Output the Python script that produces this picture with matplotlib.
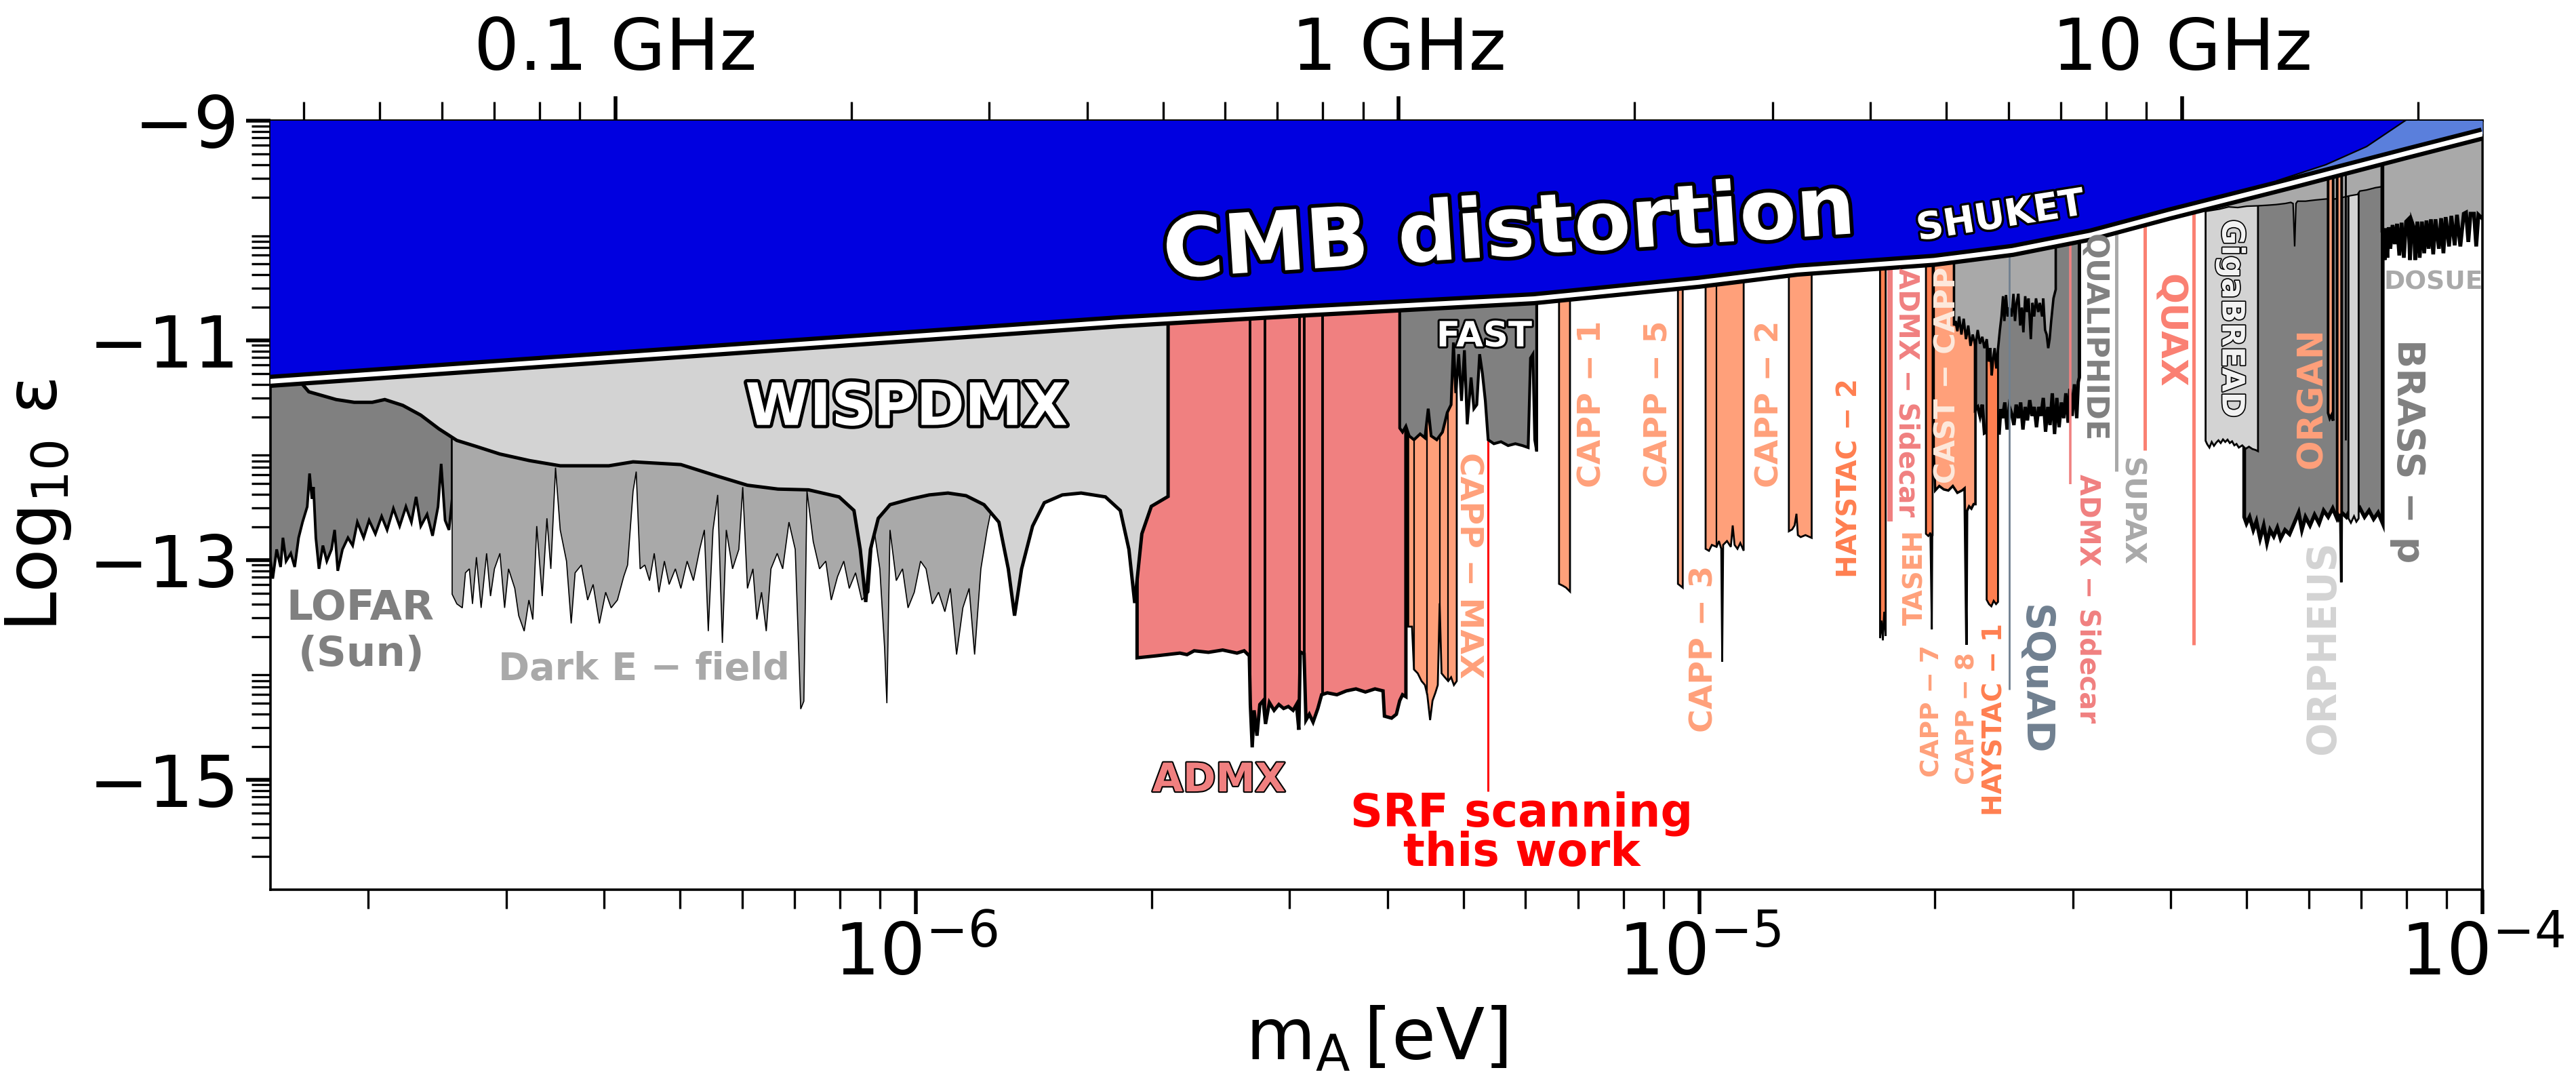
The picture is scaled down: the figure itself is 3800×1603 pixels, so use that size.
import numpy as np
import matplotlib
matplotlib.use("Agg")
import matplotlib.pyplot as plt
import matplotlib.patheffects as pe
from matplotlib.ticker import FixedLocator, NullFormatter

# photon energy of 1 GHz in eV (for the top axis)
GHZ_EV = 4.135667e-6

# all curves are (log10 m_A [eV], log10 eps)

# lower edge of the CMB distortion bound
CMB = [(-6.85, -11.385), (-6.5, -11.21), (-6.0, -10.96), (-5.741, -10.83),
       (-5.5, -10.73), (-5.211, -10.62), (-5.0, -10.47), (-4.875, -10.36),
       (-4.70, -10.27), (-4.60, -10.18), (-4.50, -10.04), (-4.40, -9.85),
       (-4.25, -9.58), (-4.099, -9.30), (-4.0, -9.12)]
# where the dark blue part stops and the lighter wedge starts
BLUE_SPLIT = [(-4.262, -9.545), (-4.20, -9.40), (-4.148, -9.235),
              (-4.099, -9.0), (-4.09, -8.96)]

LOFAR = [(-6.825, -12.938), (-6.821, -13.168), (-6.816, -12.902), (-6.811, -13.062),
         (-6.808, -12.796), (-6.804, -13.009), (-6.798, -12.938), (-6.793, -13.062),
         (-6.788, -12.796), (-6.783, -12.654), (-6.777, -12.513), (-6.774, -12.211),
         (-6.771, -12.442), (-6.769, -12.335), (-6.766, -12.796), (-6.762, -13.079),
         (-6.757, -12.867), (-6.752, -13.009), (-6.746, -12.902), (-6.742, -12.725),
         (-6.738, -13.097), (-6.732, -12.902), (-6.725, -12.796), (-6.719, -12.867),
         (-6.713, -12.654), (-6.705, -12.796), (-6.698, -12.637), (-6.690, -12.761),
         (-6.682, -12.601), (-6.675, -12.725), (-6.667, -12.530), (-6.659, -12.690),
         (-6.651, -12.513), (-6.644, -12.654), (-6.638, -12.424), (-6.632, -12.690),
         (-6.624, -12.583), (-6.617, -12.778), (-6.610, -12.513), (-6.606, -12.123),
         (-6.601, -12.637), (-6.596, -12.725), (-6.592, -12.442)]

DARK_E = [(-6.592, -13.310), (-6.586, -13.398), (-6.579, -13.434), (-6.575, -13.115),
          (-6.570, -13.079), (-6.566, -13.398), (-6.561, -12.973), (-6.555, -13.434),
          (-6.548, -12.938), (-6.543, -13.327), (-6.538, -13.079), (-6.531, -12.938),
          (-6.525, -13.434), (-6.520, -13.079), (-6.512, -13.257), (-6.507, -13.505),
          (-6.500, -13.646), (-6.494, -13.363), (-6.489, -13.540), (-6.484, -12.690),
          (-6.477, -13.327), (-6.471, -12.619), (-6.466, -13.079), (-6.460, -12.158),
          (-6.454, -12.725), (-6.446, -13.009), (-6.440, -13.576), (-6.435, -13.115),
          (-6.427, -13.044), (-6.419, -13.363), (-6.412, -13.221), (-6.404, -13.576),
          (-6.396, -13.292), (-6.389, -13.434), (-6.381, -13.363), (-6.373, -13.150),
          (-6.368, -13.044), (-6.361, -12.371), (-6.357, -12.194), (-6.352, -13.079),
          (-6.346, -13.044), (-6.340, -13.186), (-6.334, -12.938), (-6.328, -13.292),
          (-6.321, -13.009), (-6.315, -13.221), (-6.307, -13.079), (-6.300, -13.257),
          (-6.292, -13.009), (-6.284, -13.186), (-6.276, -12.902), (-6.270, -12.725),
          (-6.265, -13.646), (-6.259, -12.725), (-6.253, -12.406), (-6.247, -13.753),
          (-6.242, -12.725), (-6.234, -13.079), (-6.226, -12.902), (-6.221, -12.335),
          (-6.215, -13.257), (-6.208, -13.079), (-6.203, -13.540), (-6.197, -13.292),
          (-6.191, -13.646), (-6.185, -13.079), (-6.177, -12.938), (-6.170, -13.079),
          (-6.162, -12.654), (-6.154, -12.902), (-6.147, -14.355), (-6.143, -14.284),
          (-6.139, -12.371), (-6.131, -12.831), (-6.123, -13.079), (-6.115, -13.009),
          (-6.108, -13.363), (-6.100, -13.150), (-6.092, -13.009), (-6.085, -13.257),
          (-6.077, -13.115), (-6.069, -13.363), (-6.060, -13.292), (-6.054, -12.690),
          (-6.046, -13.079), (-6.040, -13.788), (-6.037, -14.302), (-6.033, -12.725),
          (-6.025, -13.186), (-6.017, -13.079), (-6.010, -13.434), (-6.002, -13.292),
          (-5.994, -13.009), (-5.987, -13.079), (-5.979, -13.398), (-5.971, -13.292),
          (-5.963, -13.469), (-5.956, -13.257), (-5.948, -13.859), (-5.940, -13.434),
          (-5.932, -13.257), (-5.925, -13.859), (-5.917, -13.079), (-5.909, -12.725),
          (-5.905, -12.583)]

WISPDMX = [(-6.783, -11.40), (-6.775, -11.467), (-6.740, -11.538), (-6.717, -11.563),
           (-6.694, -11.563), (-6.678, -11.538), (-6.655, -11.591), (-6.632, -11.680),
           (-6.609, -11.804), (-6.586, -11.910), (-6.562, -11.963), (-6.531, -12.034),
           (-6.493, -12.094), (-6.454, -12.141), (-6.392, -12.141), (-6.361, -12.105),
           (-6.300, -12.130), (-6.253, -12.236), (-6.215, -12.318), (-6.176, -12.353),
           (-6.137, -12.360), (-6.098, -12.424), (-6.079, -12.548), (-6.071, -12.902),
           (-6.064, -13.381), (-6.058, -12.902), (-6.048, -12.619), (-6.033, -12.495),
           (-6.006, -12.442), (-5.983, -12.406), (-5.959, -12.389), (-5.936, -12.413),
           (-5.913, -12.495), (-5.894, -12.654), (-5.882, -13.079), (-5.874, -13.505),
           (-5.865, -13.079), (-5.851, -12.690), (-5.836, -12.477), (-5.813, -12.406),
           (-5.789, -12.389), (-5.758, -12.424), (-5.739, -12.548), (-5.728, -12.902),
           (-5.7206, -13.39), (-5.7115, -12.76), (-5.6994, -12.51), (-5.678, -12.42)]

ADMX = [(-5.7176, -13.889), (-5.6933, -13.871), (-5.6629, -13.846), (-5.6538, -13.860),
        (-5.6447, -13.825), (-5.6265, -13.839), (-5.6083, -13.818), (-5.5900, -13.846),
        (-5.5809, -13.825), (-5.5743, -13.871), (-5.5730, -14.314), (-5.5706, -14.704),
        (-5.5682, -14.367), (-5.5645, -14.598), (-5.5609, -14.314), (-5.5566, -14.279),
        (-5.5536, -14.491), (-5.5487, -14.296), (-5.5427, -14.367), (-5.5366, -14.314),
        (-5.5305, -14.350), (-5.5245, -14.332), (-5.5184, -14.367), (-5.5141, -14.314),
        (-5.5111, -14.544), (-5.5093, -13.836), (-5.5044, -13.853), (-5.5020, -14.456),
        (-5.4977, -14.403), (-5.4929, -14.474), (-5.4868, -14.350), (-5.4820, -14.225),
        (-5.4747, -14.208), (-5.4625, -14.225), (-5.4504, -14.190), (-5.4382, -14.172),
        (-5.4261, -14.200), (-5.4139, -14.172), (-5.4036, -14.190), (-5.4018, -14.420),
        (-5.3927, -14.438), (-5.3866, -14.403), (-5.3823, -14.279), (-5.3787, -14.225),
        (-5.3744, -14.243)]
ADMX_RUNS = [-5.573, -5.554, -5.510, -5.504, -5.481]

FAST = [(-5.3823, -11.798), (-5.3787, -11.834), (-5.3744, -11.780), (-5.3702, -11.869),
        (-5.3641, -11.904), (-5.3562, -11.851), (-5.3501, -11.887), (-5.3459, -11.621),
        (-5.3422, -11.869), (-5.3350, -11.904), (-5.3277, -11.834), (-5.3216, -11.656),
        (-5.3167, -11.585), (-5.3137, -11.018), (-5.3107, -11.479), (-5.3070, -11.125),
        (-5.3034, -11.550), (-5.2997, -11.089), (-5.2961, -11.763), (-5.2912, -11.337),
        (-5.2876, -11.621), (-5.2839, -11.585), (-5.2803, -11.125), (-5.2767, -11.302),
        (-5.2730, -11.550), (-5.2694, -11.904), (-5.2621, -11.940), (-5.2530, -11.922),
        (-5.2439, -11.957), (-5.2347, -11.940), (-5.2256, -11.957), (-5.2183, -11.975),
        (-5.2153, -11.160), (-5.2123, -11.125), (-5.2099, -11.904), (-5.2074, -12.011)]

CAPP_MAX = [(-5.3714, -13.605), (-5.3666, -13.605), (-5.3641, -13.995), (-5.3593, -14.030),
            (-5.3544, -14.101), (-5.3501, -14.137), (-5.3471, -14.225), (-5.3435, -14.456),
            (-5.3404, -14.279), (-5.3368, -14.208), (-5.3337, -14.137), (-5.3313, -13.393),
            (-5.3289, -14.030), (-5.3247, -14.066), (-5.3204, -14.101), (-5.3167, -14.066),
            (-5.3131, -14.137), (-5.3095, -14.101)]
CAPP_MAX_RUNS = [-5.3641, -5.3471, -5.3313, -5.3204]

SRF_MASS = -5.2694
SRF_BOTTOM = -15.105

CAPP_1 = [(-5.1789, -13.216), (-5.1740, -13.233), (-5.1700, -13.250), (-5.1649, -13.286)]
CAPP_5 = [(-5.0271, -13.216), (-5.0240, -13.233), (-5.0210, -13.250)]
CAPP_3 = [(-4.9918, -12.897), (-4.9875, -12.915), (-4.9838, -12.861), (-4.9778, -12.879),
          (-4.9748, -12.826), (-4.9718, -12.897), (-4.9706, -13.924), (-4.9694, -12.861),
          (-4.9645, -12.826), (-4.9596, -12.879), (-4.9572, -12.684), (-4.9548, -12.861),
          (-4.9511, -12.897), (-4.9475, -12.844), (-4.9432, -12.914)]
CAPP_2 = [(-4.8855, -12.737), (-4.8813, -12.720), (-4.8782, -12.684), (-4.8758, -12.578),
          (-4.8740, -12.772), (-4.8704, -12.790), (-4.8643, -12.772), (-4.8564, -12.797)]
HAYSTAC_2 = [(-4.7691, -13.71), (-4.7672, -13.55), (-4.7655, -13.73), (-4.7638, -13.47),
             (-4.7619, -13.69)]
SIDECAR_1 = [(-4.7601, -12.65), (-4.7532, -12.65)]
TASEH = [(-4.7105, -12.76), (-4.7075, -12.78), (-4.7048, -12.75), (-4.7030, -13.63),
         (-4.7024, -12.77), (-4.7020, -12.77)]
CAST_CAPP = [(-4.7007, -11.996), (-4.6987, -12.366), (-4.6935, -12.325), (-4.6877, -12.356),
             (-4.6819, -12.366), (-4.6762, -12.325), (-4.6704, -12.387), (-4.6646, -12.366),
             (-4.6612, -12.346), (-4.6588, -13.770), (-4.6580, -12.552), (-4.6554, -12.510),
             (-4.6525, -12.531), (-4.6496, -12.490), (-4.6473, -12.490)]

QUALIPHIDE = [(-4.6473, -11.625), (-4.6444, -11.605), (-4.6415, -11.687), (-4.6386, -11.584),
              (-4.6358, -11.842), (-4.6329, -11.831), (-4.6170, -11.842), (-4.6150, -11.625),
              (-4.6127, -11.708), (-4.6098, -11.564), (-4.6069, -11.811), (-4.6040, -11.605),
              (-4.6011, -11.667), (-4.5982, -11.770), (-4.5953, -11.584), (-4.5925, -11.708),
              (-4.5896, -11.564), (-4.5867, -11.811), (-4.5838, -11.605), (-4.5809, -11.728),
              (-4.5780, -11.543), (-4.5751, -11.687), (-4.5723, -11.605), (-4.5694, -11.790),
              (-4.5665, -11.605), (-4.5636, -11.687), (-4.5607, -11.523), (-4.5578, -11.831),
              (-4.5549, -11.605), (-4.5521, -11.770), (-4.5492, -11.481), (-4.5463, -11.852),
              (-4.5434, -11.523), (-4.5405, -11.790), (-4.5376, -11.564), (-4.5347, -11.708),
              (-4.5319, -11.481), (-4.5290, -11.749), (-4.5267, -11.440), (-4.5238, -11.687),
              (-4.5209, -11.399), (-4.5180, -11.708), (-4.5160, -11.378), (-4.5146, -11.337)]
HAYSTAC_1 = [(-4.6330, -13.36), (-4.6300, -13.40), (-4.6270, -13.42), (-4.6240, -13.37),
             (-4.6210, -13.40), (-4.6185, -13.38)]
SHUKET = [(-4.6747, -10.864), (-4.6727, -10.823), (-4.6704, -10.916), (-4.6681, -10.782),
          (-4.6652, -10.946), (-4.6623, -10.802), (-4.6594, -10.988), (-4.6565, -10.864),
          (-4.6536, -11.049), (-4.6508, -10.946), (-4.6473, -11.049), (-4.6444, -10.905),
          (-4.6415, -11.029), (-4.6386, -10.967), (-4.6358, -11.070), (-4.6329, -10.988),
          (-4.6300, -11.193), (-4.6283, -11.070), (-4.6265, -11.317), (-4.6248, -11.173),
          (-4.6228, -11.070), (-4.6207, -11.255), (-4.6184, -11.070), (-4.6161, -10.905),
          (-4.6141, -10.782), (-4.6121, -10.597), (-4.6104, -10.823), (-4.6083, -10.586),
          (-4.6063, -10.782), (-4.6040, -10.700), (-4.6011, -10.782), (-4.5988, -10.576),
          (-4.5968, -10.823), (-4.5948, -10.658), (-4.5925, -10.576), (-4.5902, -10.864),
          (-4.5881, -10.700), (-4.5861, -10.926), (-4.5838, -10.597), (-4.5815, -10.741),
          (-4.5795, -10.617), (-4.5766, -10.988), (-4.5746, -10.658), (-4.5723, -10.782),
          (-4.5700, -10.617), (-4.5671, -10.741), (-4.5651, -10.658), (-4.5622, -10.782),
          (-4.5607, -10.617), (-4.5584, -10.905), (-4.5564, -10.946), (-4.5544, -11.070),
          (-4.5526, -10.988), (-4.5506, -10.823), (-4.5477, -10.617), (-4.5448, -10.535)]

# single-frequency limits drawn as thin lines: (log10 m, lowest log10 eps)
SQUAD_LINE = (-4.6040, -14.18)
SIDECAR_2_LINE = (-4.5261, -12.31)
SUPAX_LINE = (-4.4678, -12.19)
QUAX_LINES = [(-4.4309, -12.00), (-4.3688, -13.77)]
ORGAN_LINE = (-4.1745, -11.91)

GIGABREAD = [(-4.3535, -11.913), (-4.3515, -11.944), (-4.3486, -11.975), (-4.3457, -11.924),
             (-4.3428, -11.959), (-4.3399, -11.930), (-4.3371, -11.909), (-4.3342, -11.934),
             (-4.3313, -11.901), (-4.3284, -11.924), (-4.3255, -11.903), (-4.3226, -11.934),
             (-4.3197, -11.918), (-4.3168, -11.955), (-4.3140, -11.942), (-4.3111, -11.975),
             (-4.3067, -11.955), (-4.3024, -11.986), (-4.2981, -11.967), (-4.2938, -11.988),
             (-4.2900, -11.996), (-4.2866, -12.008)]
ORGAN = [(-4.3042, -12.607), (-4.3013, -12.666), (-4.2973, -12.607), (-4.2926, -12.725),
         (-4.2886, -12.646), (-4.2839, -12.804), (-4.2793, -12.685), (-4.2752, -12.843),
         (-4.2712, -12.725), (-4.2665, -12.784), (-4.2619, -12.705), (-4.2578, -12.804),
         (-4.2521, -12.725), (-4.2463, -12.764), (-4.2405, -12.666), (-4.2347, -12.567),
         (-4.2306, -12.725), (-4.2260, -12.607), (-4.2202, -12.685), (-4.2144, -12.587),
         (-4.2086, -12.666), (-4.2028, -12.548), (-4.1970, -12.607), (-4.1912, -12.528),
         (-4.1854, -12.626), (-4.1796, -12.567), (-4.1738, -12.607), (-4.1680, -12.528),
         (-4.1622, -12.587), (-4.1564, -12.528), (-4.1506, -12.607), (-4.1448, -12.548),
         (-4.1390, -12.626), (-4.1332, -12.567), (-4.1274, -12.666)]
ORPHEUS = [(-4.1711, -12.62), (-4.1680, -12.66), (-4.1640, -12.60), (-4.1610, -12.65),
           (-4.1581, -12.62)]
ORGAN_BAND_1 = [(-4.1971, -11.66), (-4.1950, -11.71), (-4.1928, -11.68), (-4.1907, -11.73)]
ORGAN_BAND_2 = [(-4.1855, -12.56), (-4.1835, -12.62), (-4.1815, -12.58), (-4.1802, -13.20),
                (-4.1798, -12.60)]
UPPER_BAND = [(-4.3535, -9.825), (-4.3356, -9.804), (-4.3241, -9.784), (-4.3125, -9.790),
              (-4.3010, -9.778), (-4.2866, -9.774), (-4.2750, -9.769), (-4.2635, -9.763),
              (-4.2519, -9.753), (-4.2447, -9.743), (-4.2418, -9.753), (-4.2398, -10.144),
              (-4.2381, -9.753), (-4.2360, -9.732), (-4.2260, -9.732), (-4.2144, -9.722),
              (-4.1999, -9.712), (-4.1884, -9.712), (-4.1769, -9.695), (-4.1682, -9.681),
              (-4.1596, -9.671), (-4.1567, -9.640), (-4.1480, -9.630), (-4.1365, -9.609),
              (-4.1278, -9.599)]
DOSUE = [(-4.1278, -10.000), (-4.1264, -10.000), (-4.1249, -10.267), (-4.1235, -9.979),
         (-4.1215, -10.247), (-4.1197, -9.969), (-4.1177, -10.165), (-4.1148, -9.949),
         (-4.1120, -10.123), (-4.1091, -9.938), (-4.1062, -10.226), (-4.1033, -9.928),
         (-4.1004, -10.247), (-4.0975, -9.918), (-4.0946, -9.897), (-4.0926, -10.267),
         (-4.0903, -9.918), (-4.0874, -9.979), (-4.0860, -10.267), (-4.0831, -9.918),
         (-4.0802, -10.247), (-4.0773, -9.918), (-4.0744, -10.206), (-4.0715, -9.908),
         (-4.0687, -10.165), (-4.0658, -9.897), (-4.0629, -10.216), (-4.0600, -9.897),
         (-4.0557, -10.165), (-4.0528, -9.887), (-4.0499, -10.206), (-4.0470, -9.877),
         (-4.0427, -10.144), (-4.0398, -9.866), (-4.0355, -10.134), (-4.0326, -9.856),
         (-4.0283, -10.144), (-4.0239, -9.846), (-4.0210, -9.835), (-4.0181, -10.103),
         (-4.0152, -9.846), (-4.0109, -9.846), (-4.0080, -10.144), (-4.0052, -9.856),
         (-4.0022, -9.877), (-3.9990, -9.897)]

# horizontal labels: text, log10 m, log10 eps (baseline), colour, size, angle, outline
FLAT_LABELS = [
    ("LOFAR", -6.709, -13.54, "gray", 22, 0, 0),
    ("(Sun)", -6.708, -13.963, "gray", 22, 0, 0),
    ("Dark E \u2212 field", -6.347, -14.089, "darkgray", 20, 0, 0),
    ("WISPDMX", -6.012, -11.769, "white", 31, 0, 3.5),
    ("ADMX", -5.613, -15.105, "lightcoral", 21, 0, 1.5),
    ("FAST", -5.2744, -11.054, "white", 18.5, 0, 2.2),
    ("SRF scanning", -5.2268, -15.42, "red", 24, 0, 0),
    ("this work", -5.2268, -15.784, "red", 24, 0, 0),
    ("DOSUE", -4.0629, -10.535, "darkgray", 13.5, 0, 0),
    ("CMB distortion", -5.2407, -10.228, "white", 44, 3.7, 4),
    ("SHUKET", -4.6130, -9.969, "white", 20, 9, 2.5),
]
# vertical labels, placed by centre
VERT_LABELS = [
    ("CAPP \u2212 MAX", -5.2943, -13.046, "lightsalmon", 17, -90, 0),
    ("CAPP \u2212 1", -5.1364, -11.577, "lightsalmon", 17, 90, 0),
    ("CAPP \u2212 5", -5.0513, -11.577, "lightsalmon", 17, 90, 0),
    ("CAPP \u2212 3", -4.9936, -13.807, "lightsalmon", 17, 90, 0),
    ("CAPP \u2212 2", -4.9098, -11.577, "lightsalmon", 17, 90, 0),
    ("HAYSTAC \u2212 2", -4.8075, -12.253, "coral", 14.5, 90, 0),
    ("ADMX \u2212 Sidecar", -4.7353, -11.473, "lightcoral", 14.5, -90, 0),
    ("TASEH", -4.7246, -13.158, "lightsalmon", 14, 90, 0),
    ("CAST \u2212 CAPP", -4.6834, -11.317, "#fde9dc", 15.5, 90, 0),
    ("CAPP \u2212 7", -4.7022, -14.376, "lightsalmon", 13.5, 90, 0),
    ("CAPP \u2212 8", -4.6571, -14.44, "lightsalmon", 13.5, 90, 0),
    ("HAYSTAC \u2212 1", -4.6225, -14.45, "coral", 14, 90, 0),
    ("SQuAD", -4.5723, -14.09, "slategray", 20.5, -90, 0),
    ("ADMX \u2212 Sidecar", -4.5042, -13.347, "lightcoral", 14.5, -90, 0),
    ("QUALIPHIDE", -4.4972, -10.977, "gray", 16, -90, 0),
    ("SUPAX", -4.4490, -12.559, "darkgray", 15.5, -90, 0),
    ("QUAX", -4.3999, -10.914, "salmon", 19, -90, 0),
    ("GigaBREAD", -4.3212, -10.802, "#f2f2f2", 16.5, -90, 1.2),
    ("ORGAN", -4.2172, -11.524, "lightsalmon", 18.5, 90, 0),
    ("ORPHEUS", -4.2028, -13.796, "lightgray", 21, 90, 0),
    ("BRASS \u2212 p", -4.0955, -12.008, "gray", 20, -90, 0),
]

TOP_TICKS_GHZ = [0.1, 1, 10]
TOP_TICK_LABELS = ["0.1 GHz", "1 GHz", "10 GHz"]
Y_MAJOR = [-15, -13, -11, -9]

TOP = -8.0
fig = plt.figure(figsize=(19, 8.015), dpi=200)
ax = fig.add_axes([0.105, 0.1815, 0.8587, 0.7074])
ax.set_xscale("log")


def mass(lm):
    return 10.0 ** np.asarray(lm, dtype=float)


def region(pts, fc, ec="k", lw=1.0, z=2):
    lm, le = np.array(pts).T
    ax.fill(mass(np.r_[lm[0], lm, lm[-1]]), np.r_[TOP, le, TOP],
            facecolor=fc, edgecolor=ec, linewidth=lw, zorder=z)
    return lm, le


def run_edges(lm, le, where, lw, z):
    for x in where:
        ax.plot(mass([x, x]), [np.interp(x, lm, le), TOP], color="k",
                lw=lw, zorder=z, solid_capstyle="butt")


def vline(spec, color, lw, z=6.5):
    x, bottom = spec
    ax.plot(mass([x, x]), [bottom, TOP], color=color, lw=lw, zorder=z,
            solid_capstyle="butt")


# low mass side
region(LOFAR, "gray", lw=1.4, z=2)
region(DARK_E, "darkgray", lw=0.6, z=2)
lm, le = region(ADMX, "lightcoral", lw=1.8, z=3)
run_edges(lm, le, ADMX_RUNS, 1.4, 3.1)
region(WISPDMX, "lightgray", lw=1.8, z=4)
lm, le = region(CAPP_MAX, "lightsalmon", lw=1.0, z=4)
run_edges(lm, le, CAPP_MAX_RUNS, 0.8, 4.1)
vline((SRF_MASS, SRF_BOTTOM), "red", 1.1, z=4.5)
region(FAST, "gray", lw=1.5, z=5)

# haloscope bands
region(CAPP_1, "lightsalmon", lw=1.0, z=4)
region(CAPP_5, "lightsalmon", lw=1.0, z=4)
lm, le = region(CAPP_3, "lightsalmon", lw=1.0, z=4)
run_edges(lm, le, [-4.9778], 0.8, 4.1)
region(CAPP_2, "lightsalmon", lw=1.0, z=4)
region(HAYSTAC_2, "coral", lw=1.0, z=4)
region(SIDECAR_1, "lightcoral", ec="none", z=4)
region(TASEH, "coral", lw=1.0, z=4)
region(CAST_CAPP, "lightsalmon", lw=1.3, z=4)
region(QUALIPHIDE, "gray", lw=1.8, z=5)
region(HAYSTAC_1, "coral", lw=1.0, z=5.5)
region(SHUKET, "darkgray", lw=1.3, z=6)

vline(SQUAD_LINE, "slategray", 1.0)
vline(SIDECAR_2_LINE, "lightcoral", 1.3)
vline(SUPAX_LINE, "darkgray", 1.8)
for q in QUAX_LINES:
    vline(q, "salmon", 1.8)

# high mass side
region(ORGAN, "gray", lw=2.0, z=4)
region(GIGABREAD, "lightgray", lw=1.0, z=5)
region(ORPHEUS, "lightgray", lw=1.0, z=5)
region(UPPER_BAND, "darkgray", lw=0.8, z=6)
region(ORGAN_BAND_1, "lightsalmon", lw=1.4, z=6.5)
region(ORGAN_BAND_2, "lightsalmon", lw=1.4, z=6.5)
vline(ORGAN_LINE, "k", 1.0)
region(DOSUE, "darkgray", lw=2.0, z=6)

# CMB distortion
c_lm, c_le = np.array(CMB).T
b_lm, b_le = np.array(BLUE_SPLIT).T
ax.fill_between(mass(c_lm), c_le, TOP, color="#5a7fdc", lw=0, zorder=10)
keep = c_lm < b_lm[0]
ax.fill(mass(np.r_[c_lm[keep], b_lm, b_lm[-1], c_lm[0]]),
        np.r_[c_le[keep], b_le, TOP, TOP], color="#0000e0", lw=0, zorder=10.5)
ax.plot(mass(b_lm), b_le, color="k", lw=0.8, zorder=10.6)
ax.plot(mass(c_lm), c_le, color="k", lw=7, zorder=11, solid_capstyle="butt")
ax.plot(mass(c_lm), c_le, color="white", lw=2.5, zorder=11.1)

for text, x, y, col, size, rot, stroke in FLAT_LABELS:
    fx = [pe.withStroke(linewidth=stroke, foreground="k")] if stroke else None
    ax.text(10 ** x, y, text, color=col, fontsize=size, fontweight="bold",
            rotation=rot, rotation_mode="anchor", ha="center", va="baseline",
            path_effects=fx, zorder=12)
for text, x, y, col, size, rot, stroke in VERT_LABELS:
    fx = [pe.withStroke(linewidth=stroke, foreground="k")] if stroke else None
    ax.text(10 ** x, y, text, color=col, fontsize=size, fontweight="bold",
            rotation=rot, ha="center", va="center", path_effects=fx, zorder=12)

ax.set_xlim(1.5e-7, 1e-4)
ax.set_ylim(-16, -9)
ax.set_yticks(Y_MAJOR)
ax.yaxis.set_minor_locator(FixedLocator(
    [n + np.log10(k) for n in range(-16, -9) for k in range(2, 10)]))
ax.tick_params(which="major", length=13, width=2.0, labelsize=38, top=False, right=False)
ax.tick_params(which="minor", length=10, width=1.2, top=False, right=False)
for s in ax.spines.values():
    s.set_linewidth(1.3)
ax.set_xlabel(r"m$_{\rm A}\,$[eV]", fontsize=38, labelpad=8)
ax.set_ylabel("Log$_{10}$ \u03b5", fontsize=38, labelpad=8)

sec = ax.secondary_xaxis("top", functions=(lambda x: x / GHZ_EV, lambda f: f * GHZ_EV))
sec.set_ticks(TOP_TICKS_GHZ, TOP_TICK_LABELS)
sec.xaxis.set_minor_locator(FixedLocator(
    [k * d for d in (0.01, 0.1, 1, 10) for k in range(2, 10)]))
sec.xaxis.set_minor_formatter(NullFormatter())
sec.tick_params(which="major", length=13, width=2.0, labelsize=38, pad=6)
sec.tick_params(which="minor", length=10, width=1.2)
sec.spines["top"].set_linewidth(1.3)

fig.savefig("out.png", dpi=200)
